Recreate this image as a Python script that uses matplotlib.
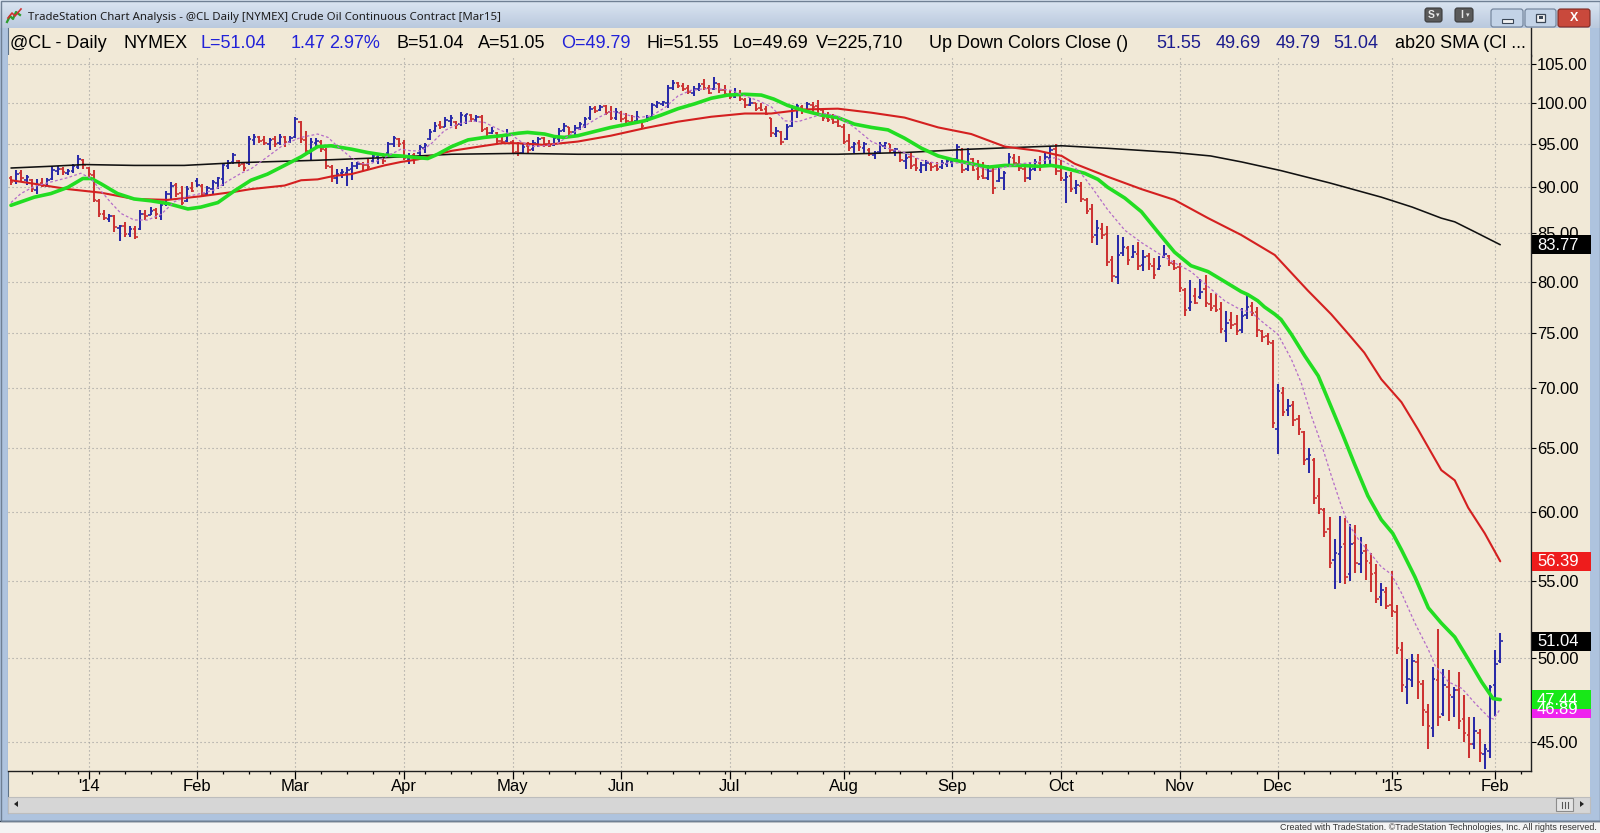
import numpy as np
import pandas as pd
import matplotlib
matplotlib.use("Agg")
import matplotlib.pyplot as plt
from matplotlib.patches import Rectangle, FancyBboxPatch, Polygon
from matplotlib.ticker import FixedLocator, FixedFormatter, NullLocator, NullFormatter

plt.rcParams['font.family'] = ['Liberation Sans', 'DejaVu Sans']

# ------------------------------------------------------------------ data
START_DATE = "2013-12-10"
HOLIDAYS = ["2013-12-25", "2014-01-01", "2014-01-20", "2014-02-17", "2014-04-18",
            "2014-05-26", "2014-07-04", "2014-09-01", "2014-11-27", "2014-12-25",
            "2015-01-01", "2015-01-19"]

OPEN = [
    # Dec 2013
    91.1, 90.7, 91.6, 90.8, 90.8, 89.7, 90.5, 90.2, 90.9, 91.9, 92.1, 91.6, 91.8, 92.3, 93.1,
    # Jan 2014
    92.2, 91.4, 88.5, 87.1, 86.5, 86.8, 85.5, 85.8, 84.9, 85.4, 85.4, 87.1, 86.9, 87.5, 86.8, 88.1, 89.2, 90.3, 89.4, 88.5, 89.9,
    # Feb
    90.7, 90.2, 89.3, 89.8, 90.5, 90.9, 92.4, 92.9, 93.0, 92.7, 92.8, 95.5, 95.8, 95.5, 95.0, 95.6, 95.1, 95.8, 95.3,
    # Mar
    95.9, 97.6, 95.5, 94.0, 95.1, 95.3, 94.3, 92.3, 91.0, 91.6, 91.6, 92.1, 92.4, 92.7, 92.6, 93.0, 93.5, 93.8, 93.9, 95.0, 95.6,
    # Apr
    95.1, 93.3, 93.7, 93.9, 94.5, 95.6, 96.6, 97.3, 97.1, 97.8, 97.7, 97.4, 98.4, 98.5, 97.9, 98.3, 96.8, 96.3, 96.3, 95.4, 95.4,
    # May
    95.3, 94.1, 93.9, 94.8, 94.4, 95.0, 95.7, 95.0, 94.9, 95.6, 96.7, 97.0, 96.4, 96.9, 97.3, 98.1, 99.4, 99.1, 99.6, 98.9, 98.1,
    # Jun
    98.8, 98.1, 97.7, 97.8, 97.8, 97.8, 98.3, 99.6, 99.9, 100.0, 101.9, 102.5, 102.1, 101.9, 101.3, 101.8, 102.4, 101.9, 101.8, 102.4, 101.7,
    # Jul
    101.0, 100.8, 101.0, 100.4, 99.8, 100.0, 99.4, 99.2, 98.1, 96.2, 96.5, 95.6, 97.2, 99.3, 99.5, 99.1, 99.8, 99.6, 99.1, 98.2, 98.0, 97.7,
    # Aug
    97.1, 95.4, 94.6, 95.1, 94.5, 94.3, 93.7, 94.1, 94.8, 95.0, 94.2, 94.1, 93.0, 93.5, 92.6, 92.0, 92.5, 92.7, 92.4, 92.3, 92.7,
    # Sep
    92.9, 93.3, 94.3, 92.1, 93.3, 92.1, 91.3, 91.1, 91.9, 90.7, 91.0, 92.4, 93.4, 92.7, 92.1, 91.1, 92.1, 92.8, 92.5, 93.4, 94.4,
    # Oct
    91.9, 90.8, 91.3, 89.9, 90.2, 88.6, 87.6, 84.8, 85.4, 84.9, 82.2, 80.5, 82.9, 83.4, 82.5, 82.8, 81.7, 82.6, 81.6, 81.3, 82.5, 82.6, 81.8,
    # Nov
    81.5, 79.2, 77.4, 78.6, 78.5, 79.3, 77.8, 77.6, 77.3, 75.2, 76.2, 75.9, 75.3, 76.7, 77.6, 77.0, 75.2, 74.7, 74.1,
    # Dec
    66.5, 69.6, 68.1, 68.6, 67.4, 66.3, 64.1, 64.0, 61.2, 60.1, 58.7, 56.5, 56.9, 57.6, 55.5, 57.7, 56.2, 57.1, 56.3, 55.6, 53.9, 54.3,
    # Jan 2015
    53.4, 52.9, 50.5, 48.2, 48.6, 49.7, 48.4, 46.7, 45.8, 48.6, 46.6, 48.2, 47.6, 48.0, 46.3, 45.4, 44.9, 45.5, 44.3, 44.5,
    # Feb 2015
    48.3, 49.79,
]

HIGH = [
    91.3, 92.0, 92.0, 91.4, 90.9, 90.9, 91.0, 91.1, 92.4, 92.4, 92.3, 92.1, 92.7, 93.7, 93.2,
    92.3, 92.0, 88.7, 87.5, 87.1, 86.9, 85.9, 86.2, 85.8, 85.7, 87.5, 87.5, 87.8, 87.7, 88.2, 89.6, 90.6, 90.5, 90.1, 90.1, 90.6,
    91.0, 90.4, 90.1, 90.8, 91.2, 92.7, 93.1, 94.0, 93.1, 92.9, 96.0, 96.2, 96.0, 96.0, 95.7, 96.0, 96.2, 96.0, 96.0,
    98.3, 97.8, 96.6, 95.7, 95.7, 95.5, 94.5, 92.5, 92.1, 92.1, 92.3, 92.9, 92.9, 92.9, 93.3, 93.9, 93.9, 93.9, 95.3, 96.0, 95.7,
    95.5, 93.9, 93.9, 94.9, 95.1, 96.8, 97.6, 97.8, 98.3, 98.5, 97.8, 98.9, 98.7, 98.7, 98.5, 98.5, 97.0, 97.0, 96.4, 96.2, 96.8,
    95.5, 95.2, 95.0, 95.2, 95.5, 95.9, 95.9, 95.5, 95.9, 96.9, 97.5, 97.1, 97.3, 97.7, 98.3, 99.6, 99.6, 99.8, 99.8, 99.6, 99.4,
    99.0, 98.8, 98.5, 99.0, 97.9, 98.5, 100.0, 100.3, 100.3, 102.3, 102.9, 102.7, 102.5, 102.3, 102.1, 102.5, 103.1, 102.3, 103.3, 102.5, 102.3,
    101.7, 101.9, 101.7, 100.6, 100.6, 100.0, 100.0, 99.6, 98.2, 97.0, 96.6, 97.4, 99.7, 99.9, 99.7, 100.1, 100.1, 100.35, 99.3, 98.9, 98.6, 98.4,
    97.4, 96.2, 95.3, 95.5, 95.3, 94.5, 94.2, 95.3, 95.3, 95.0, 94.5, 94.2, 93.8, 94.0, 93.4, 92.9, 93.1, 92.9, 92.9, 93.1, 93.2,
    93.4, 95.0, 94.5, 94.5, 93.4, 93.1, 92.9, 92.5, 92.3, 92.5, 91.9, 94.0, 93.8, 93.6, 92.5, 92.9, 93.2, 93.6, 94.0, 94.8, 95.0,
    93.1, 91.7, 91.7, 90.8, 90.6, 88.8, 88.1, 86.4, 86.1, 85.7, 82.6, 84.8, 84.6, 83.6, 83.7, 84.1, 83.2, 82.9, 82.4, 82.6, 83.7, 82.7, 82.2,
    81.9, 79.4, 80.2, 79.4, 80.3, 80.7, 78.9, 78.8, 78.0, 77.1, 77.0, 76.7, 77.4, 78.7, 78.0, 77.5, 75.3, 75.0, 74.4,
    70.4, 70.1, 69.1, 68.9, 67.7, 66.4, 65.0, 64.2, 62.6, 60.3, 59.6, 58.0, 59.7, 59.5, 59.1, 59.0, 58.1, 57.6, 57.0, 56.2, 54.9, 54.6,
    55.7, 53.4, 51.0, 49.9, 50.2, 50.2, 48.6, 47.2, 49.4, 51.8, 49.3, 49.2, 48.2, 49.1, 47.7, 46.4, 46.4, 45.7, 44.9, 48.3,
    50.5, 51.55,
]

LOW = [
    90.3, 90.4, 90.6, 90.3, 89.5, 89.3, 90.0, 90.1, 90.8, 91.4, 91.4, 91.4, 91.6, 92.1, 92.1,
    91.2, 88.4, 86.7, 86.4, 86.2, 85.1, 84.2, 84.6, 84.6, 84.4, 85.3, 86.4, 86.9, 86.5, 86.4, 87.9, 88.7, 88.9, 88.0, 88.4, 89.5,
    90.0, 89.0, 89.0, 89.3, 89.8, 90.1, 92.1, 92.7, 92.3, 91.9, 92.6, 94.9, 95.1, 94.9, 94.3, 94.7, 94.9, 94.7, 95.1,
    95.7, 95.1, 93.9, 93.1, 94.7, 94.1, 92.1, 90.6, 90.4, 91.0, 90.2, 90.8, 92.1, 91.9, 92.0, 92.9, 92.7, 92.7, 93.7, 94.7, 94.7,
    93.1, 92.7, 92.7, 93.7, 93.9, 95.5, 96.4, 96.8, 97.0, 97.2, 96.8, 97.2, 97.4, 97.6, 97.6, 96.4, 96.0, 96.2, 95.1, 95.1, 95.3,
    93.8, 93.6, 93.8, 94.0, 94.2, 94.6, 94.6, 94.6, 94.8, 95.3, 96.5, 96.1, 96.1, 96.7, 96.9, 97.9, 98.8, 99.0, 98.5, 97.9, 97.9,
    97.7, 97.5, 97.3, 97.7, 96.9, 97.7, 98.1, 99.4, 99.6, 99.4, 101.7, 101.9, 101.5, 101.1, 100.9, 101.5, 101.7, 101.1, 101.7, 101.3, 100.9,
    100.5, 100.6, 100.3, 99.4, 99.6, 99.0, 99.0, 98.5, 95.9, 95.9, 94.9, 95.5, 97.0, 98.2, 98.6, 98.8, 98.9, 98.6, 97.8, 97.6, 97.4, 97.0,
    95.0, 94.2, 94.0, 94.2, 93.8, 93.6, 93.2, 93.8, 94.4, 94.0, 93.6, 92.9, 92.1, 92.1, 91.9, 91.6, 91.9, 91.9, 91.8, 92.1, 92.3,
    92.3, 93.1, 91.6, 91.9, 91.8, 90.8, 90.9, 90.8, 89.3, 90.6, 89.7, 92.3, 92.5, 91.9, 90.6, 90.8, 91.9, 91.9, 92.7, 92.7, 91.4,
    90.7, 88.3, 89.5, 89.3, 88.4, 87.1, 84.0, 83.7, 84.4, 81.6, 80.0, 79.8, 82.6, 81.7, 82.4, 81.2, 81.1, 81.2, 80.3, 81.2, 82.4, 81.6, 81.2,
    79.0, 76.6, 77.1, 77.8, 78.3, 77.5, 77.1, 77.0, 75.0, 74.2, 75.4, 74.8, 75.0, 76.3, 76.6, 74.6, 74.2, 73.9, 66.6,
    64.5, 67.6, 67.6, 66.8, 66.0, 63.6, 63.0, 60.6, 59.8, 58.1, 55.9, 54.5, 54.9, 54.8, 55.0, 55.6, 55.6, 55.1, 54.3, 53.5, 53.3, 53.1,
    52.6, 50.2, 47.9, 47.2, 48.2, 47.5, 45.9, 44.6, 45.3, 45.9, 46.5, 46.2, 46.4, 45.7, 45.0, 44.1, 44.6, 43.9, 43.5, 44.1,
    46.5, 49.69,
]

CLOSE = [
    90.6, 91.5, 91.0, 91.2, 89.8, 90.3, 90.2, 90.8, 92.0, 92.1, 91.7, 91.9, 92.4, 93.2, 92.5,
    91.5, 88.6, 87.0, 86.6, 86.8, 85.6, 85.7, 84.9, 85.4, 84.6, 87.0, 86.8, 87.4, 87.0, 88.0, 89.3, 90.2, 89.2, 88.3, 89.8, 89.6,
    90.3, 89.2, 89.9, 90.6, 91.0, 92.5, 92.8, 93.7, 92.6, 92.2, 95.6, 95.9, 95.4, 95.1, 95.5, 95.0, 95.9, 95.2, 95.7,
    98.0, 95.6, 94.2, 95.2, 95.4, 94.4, 92.4, 91.0, 91.5, 91.7, 92.0, 92.4, 92.7, 92.5, 92.3, 93.6, 93.7, 93.0, 95.0, 95.7, 95.0,
    93.4, 93.6, 93.2, 94.6, 94.9, 96.5, 97.2, 97.0, 97.9, 98.2, 97.3, 98.5, 98.6, 98.0, 98.3, 96.7, 96.3, 96.6, 95.4, 95.3, 96.2,
    94.0, 93.9, 94.6, 94.3, 95.1, 95.6, 95.0, 94.8, 95.7, 96.6, 97.2, 96.5, 96.9, 97.4, 98.0, 99.3, 99.0, 99.5, 98.8, 98.2, 98.9,
    98.0, 97.8, 97.5, 98.3, 97.2, 98.2, 99.7, 100.0, 100.1, 101.9, 102.6, 102.2, 101.8, 101.4, 101.8, 102.2, 101.9, 101.3, 102.6, 101.6, 101.1,
    100.7, 101.0, 100.5, 99.7, 100.0, 99.3, 99.1, 98.7, 96.3, 96.6, 95.3, 97.1, 99.4, 99.6, 99.0, 99.9, 99.5, 99.2, 98.1, 97.9, 97.6, 97.2,
    95.3, 94.5, 95.0, 94.6, 95.0, 93.8, 94.0, 94.9, 95.1, 94.3, 94.4, 93.1, 93.4, 92.4, 92.2, 92.6, 92.8, 92.3, 92.1, 92.8, 93.0,
    93.2, 94.6, 92.0, 93.8, 92.0, 91.2, 91.0, 91.8, 89.9, 91.1, 91.6, 93.5, 92.8, 92.2, 91.0, 92.0, 92.9, 92.3, 93.5, 94.3, 91.8,
    91.0, 91.2, 89.8, 90.3, 88.7, 87.4, 84.6, 85.5, 84.8, 82.0, 80.6, 82.7, 83.5, 82.2, 83.0, 81.6, 82.5, 81.8, 80.7, 81.6, 82.8, 81.9, 81.4,
    79.4, 77.2, 78.0, 77.9, 79.0, 77.9, 77.4, 77.2, 75.4, 76.0, 75.8, 75.2, 76.6, 77.5, 76.9, 75.3, 74.6, 74.2, 67.0,
    69.8, 68.0, 68.5, 67.3, 66.5, 64.0, 64.4, 61.0, 60.2, 58.5, 56.3, 57.0, 57.4, 55.3, 57.6, 56.3, 57.0, 56.4, 55.5, 53.8, 54.4, 53.3,
    53.0, 50.6, 48.3, 48.7, 49.8, 48.5, 46.8, 45.9, 48.7, 46.4, 48.3, 47.7, 48.0, 46.2, 45.5, 44.9, 45.6, 44.4, 44.6, 48.2,
    49.57, 51.04,
]

# moving averages: (bar index, value)
GREEN_X = [0, 4.5, 7.7, 11, 13.9, 15.5, 17.4, 20.6, 23.8, 27, 30.3, 34.2, 36.7, 40, 43.2, 46.4, 49.6, 52.9,
           56.1, 59.3, 61.9, 65.8, 69, 72.2, 75.4, 78.7, 80.6, 82.5, 85.2, 88.4, 91.6, 94.9, 98.1, 99.9, 103.2,
           105.1, 107, 109.6, 112.8, 116, 119.3, 122.5, 125.7, 129, 132.2, 135.4, 138.6, 141.9, 145.1, 147.5,
           150.2, 153.4, 156.7, 159.9, 163.1, 166.4, 169.6, 172.8, 176.1, 179.3, 182.5, 185.7, 189, 192.2,
           195.4, 198.7, 201.2, 203.1, 205.7, 207.6, 210.2, 212.1, 215.4, 218.6, 221.8, 225, 228.2, 231.5,
           234.7, 237.9, 239.2, 241.1, 242.4, 244.4, 245.6, 247.6, 250.2, 252.8, 255.3, 257.6, 259.8, 262.4,
           265, 267.2, 268.9, 271.5, 274.1, 276.6, 279.2, 281.8, 284.4, 286.6, 288]
GREEN_Y = [88.0, 88.9, 89.3, 90.0, 91.0, 91.0, 90.4, 89.3, 88.7, 88.5, 88.2, 87.6, 87.8, 88.3, 89.6, 90.8, 91.5, 92.5,
           93.5, 94.7, 94.8, 94.4, 94.0, 93.7, 93.6, 93.4, 93.3, 93.8, 94.7, 95.5, 95.8, 96.0, 96.3, 96.4, 96.2,
           95.9, 95.8, 96.0, 96.5, 97.0, 97.4, 97.8, 98.5, 99.3, 99.9, 100.6, 101.0, 101.1, 101.0, 100.5,
           99.7, 99.05, 98.5, 98.2, 97.4, 97.0, 96.7, 95.7, 94.5, 93.6, 93.1, 92.7, 92.3, 92.5,
           92.5, 92.4, 92.5, 92.3, 91.9, 91.6, 90.9, 90.0, 88.8, 87.3, 85.1, 83.0, 81.6, 81.0,
           80.0, 79.0, 78.7, 78.1, 77.5, 76.8, 76.3, 74.9, 72.9, 71.1, 68.4, 66.0, 63.7, 61.2,
           59.4, 58.4, 57.2, 55.3, 53.2, 52.2, 51.3, 49.9, 48.5, 47.5, 47.44]

RED_X = [0, 4.5, 7.7, 11, 17.4, 23.8, 30.3, 36.7, 43.2, 46.4, 52.9, 56.1, 59.3, 62.5, 65.8, 69, 72.2, 75.4,
         78.7, 81.9, 85.2, 88.4, 91.6, 94.9, 98.1, 103.2, 109.6, 116, 122.5, 129, 135.4, 141.9, 147, 153.4,
         159.9, 166.4, 172.8, 179.3, 185.7, 192.2, 198.7, 203.2, 205.7, 212.1, 218.6, 225, 231.5, 237.9,
         244.4, 250.8, 255.3, 258.5, 261.7, 265, 268.9, 272.1, 276.6, 279.2, 281.8, 285, 288]
RED_Y = [90.8, 90.4, 90.1, 89.8, 89.4, 88.7, 88.6, 89.0, 89.5, 89.8, 90.2, 90.8, 90.9, 91.3, 91.5, 92.0, 92.5, 92.9,
         93.2, 93.7, 94.2, 94.5, 94.8, 95.1, 95.1, 94.9, 95.3, 96.0, 96.9, 97.7, 98.3, 98.7, 98.7, 99.2,
         99.3, 98.8, 98.2, 97.0, 96.2, 94.7, 94.2, 93.6, 92.7, 91.2, 89.8, 88.6, 86.6, 84.8,
         82.7, 79.1, 76.8, 75.0, 73.2, 70.8, 68.8, 66.5, 63.2, 62.4, 60.3, 58.4, 56.39]

BLACK_X = [0, 7.7, 14.2, 23.8, 33.5, 43.2, 48.4, 59.3, 72.2, 85.2, 98.1, 109.6, 122.5, 135, 148.3, 159.9,
           172.8, 185.7, 198.7, 203.2, 212.1, 225, 232, 238, 245.6, 255, 265, 271, 276.6, 279.2, 283, 288]
BLACK_Y = [92.2, 92.4, 92.6, 92.5, 92.5, 92.8, 92.9, 93.1, 93.4, 93.8, 93.9, 93.8, 93.8, 93.8, 93.8, 93.8,
           94.0, 94.4, 94.7, 94.8, 94.5, 94.0, 93.6, 92.9, 91.9, 90.5, 88.9, 87.8, 86.6, 86.2, 85.15, 83.77]

MAG_X = [0, 1.9, 4.5, 7.7, 11, 13.5, 15.5, 17.4, 19.3, 21.3, 23.8, 26.4, 29, 31.6, 34.2, 36.7, 39.3, 41.9,
         44.5, 46.4, 49.6, 52.9, 56.1, 59.3, 61.3, 63.2, 65.8, 67.7, 69.6, 72.2, 75.4, 77.4, 79.3, 81.2,
         83.8, 86.4, 89, 91.6, 94.2, 96.8, 98.6, 100.6, 103.2, 105.8, 108.3, 111, 113.6, 116.1, 118.7,
         121.2, 123.8, 126.4, 129, 131.5, 134.1, 136.7, 139.3, 141.9, 144.5, 147.1, 149.6, 152.2, 154.7,
         157.3, 159.9, 163.1, 166.4, 169.6, 172.8, 176.1, 179.3, 182.5, 185.7, 189, 192.2, 195.4, 198.7,
         201.9, 203.1, 205.7, 207.6, 209.5, 212.1, 215.4, 218.6, 221.8, 225, 228.2, 231.5, 234.7, 237.9,
         239.8, 242.4, 245, 247.6, 249.5, 251.5, 253.4, 255.3, 257.3, 258.5, 260.5, 263, 265, 266.9,
         268.9, 271.5, 274.1, 275.4, 278, 280.6, 283.2, 285.8, 286.7, 288]
MAG_Y = [88.3, 89.3, 90.1, 90.6, 91.1, 91.6, 91.0, 89.6, 88.3, 87.1, 86.4, 86.4, 87.0, 88.4, 89.0, 89.3, 89.7, 90.7,
         91.6, 92.1, 93.5, 95.0, 95.8, 96.2, 95.8, 94.7, 93.4, 92.7, 92.7, 93.4, 94.4, 94.2, 94.2, 95.0,
         96.6, 97.4, 97.8, 97.6, 96.8, 96.1, 95.3, 94.7, 94.8, 95.1, 96.2, 97.2, 98.2, 99.0, 98.6,
         98.2, 98.4, 99.4, 100.9, 101.6, 101.8, 101.8, 101.6, 100.9, 100.3, 99.5, 97.8, 97.7, 98.2,
         98.7, 98.4, 97.0, 95.3, 94.5, 94.0, 93.1, 92.7, 92.8, 92.7, 91.9, 92.3, 92.7, 92.9,
         93.4, 93.1, 92.3, 91.1, 89.6, 87.5, 85.3, 84.0, 82.9, 81.9, 81.0, 79.5, 78.1, 77.2,
         77.0, 75.9, 74.9, 72.6, 70.5, 67.6, 65.3, 62.8, 60.4, 59.2, 58.0, 56.9, 56.0, 55.5,
         54.2, 52.2, 50.5, 49.5, 48.5, 48.1, 47.2, 46.4, 46.3, 46.89]

MONTH_LABELS = ["'14", "Feb", "Mar", "Apr", "May", "Jun", "Jul", "Aug", "Sep", "Oct", "Nov", "Dec", "'15", "Feb"]
PRICE_TICKS = [45, 50, 55, 60, 65, 70, 75, 80, 85, 90, 95, 100, 105]

LAST_TAGS = [  # (value, box colour)
    (83.77, "#000000"),
    (56.39, "#ee1c1c"),
    (51.04, "#000000"),
    (46.89, "#ee22ee"),
    (47.44, "#18e818"),
]

TITLE = "TradeStation Chart Analysis - @CL Daily [NYMEX] Crude Oil Continuous Contract [Mar15]"
HEADER = [("@CL - Daily", 10, "k"), ("NYMEX", 123.5, "k"), ("L=51.04", 200, "#2222d8"),
          ("1.47", 291, "#2222d8"), ("2.97%", 329.6, "#2222d8"), ("B=51.04", 396, "k"),
          ("A=51.05", 477.5, "k"), ("O=49.79", 561, "#2222d8"), ("Hi=51.55", 646, "k"),
          ("Lo=49.69", 732.6, "k"), ("V=225,710", 816, "k"), ("Up Down Colors Close ()", 928.6, "k"),
          ("51.55", 1156, "#1c1c8e"), ("49.69", 1216, "#1c1c8e"), ("49.79", 1275.5, "#1c1c8e"),
          ("51.04", 1333.6, "#1c1c8e"), ("ab20 SMA (Cl ...", 1395, "k")]
FOOTER = "Created with TradeStation. \u00a9TradeStation Technologies, Inc. All rights reserved."

# ------------------------------------------------------------------ figure
W, H = 1600, 833
BEIGE = "#f1e9d7"
FRAME = "#aec3de"
BLUE_BAR = "#2a2aa8"
RED_BAR = "#cc3333"

fig = plt.figure(figsize=(W / 100, H / 100), dpi=100)
fig.patch.set_facecolor("#f4f4f4")

bg = fig.add_axes([0, 0, 1, 1])
bg.set_zorder(-10)
bg.set_xlim(0, W)
bg.set_ylim(H, 0)
bg.axis("off")

fg = fig.add_axes([0, 0, 1, 1])
fg.set_zorder(10)
fg.set_xlim(0, W)
fg.set_ylim(H, 0)
fg.axis("off")
fg.patch.set_alpha(0)

# window chrome
grad = np.linspace(0, 1, 28).reshape(-1, 1)
top_c = np.array([0.86, 0.90, 0.95])
bot_c = np.array([0.73, 0.79, 0.87])
img = top_c + (bot_c - top_c) * grad[:, :, None]
img = np.repeat(img, 2, axis=1)
bg.imshow(img, extent=[0, W, 28, 0], aspect="auto", zorder=0, interpolation="bilinear")
bg.add_patch(Rectangle((0, 28), 8, 793, fc=FRAME, ec="none", zorder=1))
bg.add_patch(Rectangle((1590, 28), 10, 793, fc=FRAME, ec="none", zorder=1))
bg.add_patch(Rectangle((0, 813), W, 8, fc=FRAME, ec="none", zorder=1))
bg.add_patch(Rectangle((0, 821), W, 12, fc="#f4f4f4", ec="none", zorder=1))
bg.add_patch(Rectangle((8, 28), 1582, 769, fc=BEIGE, ec="none", zorder=1))
bg.plot([0, W], [820.5, 820.5], color="#2d3a4a", lw=1.0, zorder=2)
bg.plot([7.5, 7.5], [28, 813], color="#5f7389", lw=0.8, zorder=2)
bg.add_patch(Rectangle((0.5, 0.5), W - 1, 820, fc="none", ec="#6f8094", lw=1, zorder=2))
# scrollbar
bg.add_patch(Rectangle((8, 797), 1582, 16, fc="#d6d6d6", ec="#bdbdbd", lw=0.8, zorder=2))
bg.add_patch(Polygon([[18, 801], [18, 807], [14, 804]], closed=True, fc="#222222", ec="none", zorder=3))
bg.add_patch(Rectangle((1556, 798), 17, 13, fc="#e4e4e4", ec="#8c8c8c", lw=0.8, zorder=3))
for gx in (1561.5, 1564.5, 1567.5):
    bg.plot([gx, gx], [801.5, 807.5], color="#555555", lw=0.8, zorder=4)
bg.add_patch(Polygon([[1580, 801], [1580, 807], [1584, 804]], closed=True, fc="#222222", ec="none", zorder=3))

# title icon
bg.plot([7, 10, 13, 16, 20], [22, 16, 19, 12, 15], color="#2c9c2c", lw=1.6, zorder=3)
bg.plot([8, 12, 15, 21], [18, 13, 16, 9], color="#d03030", lw=1.2, zorder=3)

# title text (fit to width)
renderer = fig.canvas.get_renderer()
def fit_width(t, target):
    bb = t.get_window_extent(renderer)
    t.set_fontsize(t.get_fontsize() * target / bb.width)

tt = bg.text(28, 17.5, TITLE, fontsize=10, va="center", ha="left", color="#1e1e1e",
             family=["Noto Sans", "DejaVu Sans"], zorder=5)
fit_width(tt, 472)

# window buttons
def button(x, y, w, h, fc, ec):
    bg.add_patch(FancyBboxPatch((x, y), w, h, boxstyle="round,pad=0,rounding_size=2.5",
                                fc=fc, ec=ec, lw=0.8, zorder=3))
button(1425, 8, 17, 14, "#5a5a5a", "#3a3a3a")
button(1455, 8, 18, 14, "#5a5a5a", "#3a3a3a")
bg.text(1431, 15.2, "S", color="#e8e8e8", fontsize=7.5, fontweight="bold", ha="center", va="center", zorder=5)
bg.text(1437.5, 15.5, "\u25be", color="#e8e8e8", fontsize=5, ha="center", va="center", zorder=5)
bg.text(1461.5, 15.2, "I", color="#e8e8e8", fontsize=7.5, fontweight="bold", ha="center", va="center", zorder=5)
bg.text(1468, 15.5, "\u25be", color="#e8e8e8", fontsize=5, ha="center", va="center", zorder=5)
button(1491, 9, 32, 18, "#c3d3e7", "#6d7f97")
button(1525, 9, 31, 18, "#c3d3e7", "#6d7f97")
button(1558, 9, 32, 18, "#c9493c", "#7d2a22")
bg.add_patch(Rectangle((1501.5, 18.5), 11, 4, fc="#f2f2f2", ec="#3a4656", lw=0.8, zorder=5))
bg.add_patch(Rectangle((1536, 13.5), 9, 8, fc="#f2f2f2", ec="#3a4656", lw=0.9, zorder=5))
bg.add_patch(Rectangle((1538.5, 16), 4, 3, fc="#3a4656", ec="none", zorder=6))
bg.text(1574, 18, "X", color="white", fontsize=9, fontweight="bold", ha="center", va="center", zorder=5)

# header status line
for s, x, c in HEADER:
    bg.text(x, 43, s, fontsize=13, color=c, ha="left", va="center", zorder=5)

# right axis line in header row
bg.plot([1531, 1531], [28, 56], color="#202020", lw=1.0, zorder=5)

# footer
ft = bg.text(1597, 827.5, FOOTER, fontsize=7, ha="right", va="center", color="#333333", zorder=5)
fit_width(ft, 314)

# ------------------------------------------------------------------ main chart
X0, S = 11.0, 5.171
ax = fig.add_axes([8 / W, (H - 770.7) / H, (1531 - 8) / W, (770.7 - 55) / H])
ax.set_facecolor(BEIGE)
ax.set_yscale("log")
ax.set_ylim(43.405, 106.19)
ax.set_xlim((8 - X0) / S, (1531 - X0) / S)

n = len(CLOSE)
days = pd.bdate_range(START_DATE, "2015-02-27")
days = days[~days.isin(pd.to_datetime(HOLIDAYS))]
xs = np.arange(n)

month_pos = [k for k in range(1, n) if days[k].month != days[k - 1].month]
week_pos = [k for k in range(1, len(days)) if days[k].weekday() < days[k - 1].weekday()
            and k <= (1531 - X0) / S]

colors = [RED_BAR] + [BLUE_BAR if CLOSE[i] >= CLOSE[i - 1] else RED_BAR for i in range(1, n)]
o = np.array(OPEN); h = np.array(HIGH); l = np.array(LOW); c = np.array(CLOSE)
ax.vlines(xs, l, h, colors=colors, lw=1.45, zorder=2)
ax.hlines(o, xs - 0.47, xs, colors=colors, lw=1.2, zorder=2)
ax.hlines(c, xs, xs + 0.47, colors=colors, lw=1.2, zorder=2)

ax.plot(BLACK_X, BLACK_Y, color="#111111", lw=1.15, zorder=3, solid_capstyle="round")
ax.plot(RED_X, RED_Y, color="#d42020", lw=1.5, zorder=3, solid_capstyle="round")
ax.plot(GREEN_X, GREEN_Y, color="#22dd22", lw=2.6, zorder=3, solid_capstyle="round")
ax.plot(MAG_X, MAG_Y, color="#b46cc8", lw=0.9, ls=(0, (2.2, 1.8)), zorder=4)

# axes / ticks
ax.xaxis.set_major_locator(FixedLocator(month_pos))
ax.xaxis.set_major_formatter(FixedFormatter(MONTH_LABELS))
ax.xaxis.set_minor_locator(FixedLocator(week_pos))
ax.yaxis.set_major_locator(FixedLocator(PRICE_TICKS))
ax.yaxis.set_major_formatter(FixedFormatter([f"{p:.2f}" for p in PRICE_TICKS]))
ax.yaxis.set_minor_locator(NullLocator())
ax.yaxis.set_minor_formatter(NullFormatter())
ax.yaxis.tick_right()
ax.tick_params(axis="y", which="major", direction="out", length=3.6, width=0.8, pad=0.8,
               labelsize=12, colors="black")
ax.tick_params(axis="x", which="major", direction="out", length=5.6, width=0.9, pad=0.4,
               labelsize=12, colors="black")
ax.tick_params(axis="x", which="minor", direction="out", length=1.9, width=0.9, colors="black")
ax.grid(True, which="major", color="#9d9d9d", lw=0.8, ls=(0, (1, 2.6)))
ax.set_axisbelow(True)
for side in ("top", "left"):
    ax.spines[side].set_visible(False)
for side in ("bottom", "right"):
    ax.spines[side].set_color("#202020")
    ax.spines[side].set_linewidth(1.0)

# last-value tags on the price axis (they sit over the axis labels, as in the original)
for val, col in LAST_TAGS:
    ypix = H - ax.transData.transform((0, val))[1]
    fg.add_patch(Rectangle((1531.5, ypix - 9.5), 59, 19, fc=col, ec="none", zorder=5))
    fg.text(1537, ypix + 0.5, f"{val:.2f}", color="white", fontsize=12, ha="left", va="center", zorder=6)

fig.savefig("out.png", dpi=100, facecolor=fig.get_facecolor())
